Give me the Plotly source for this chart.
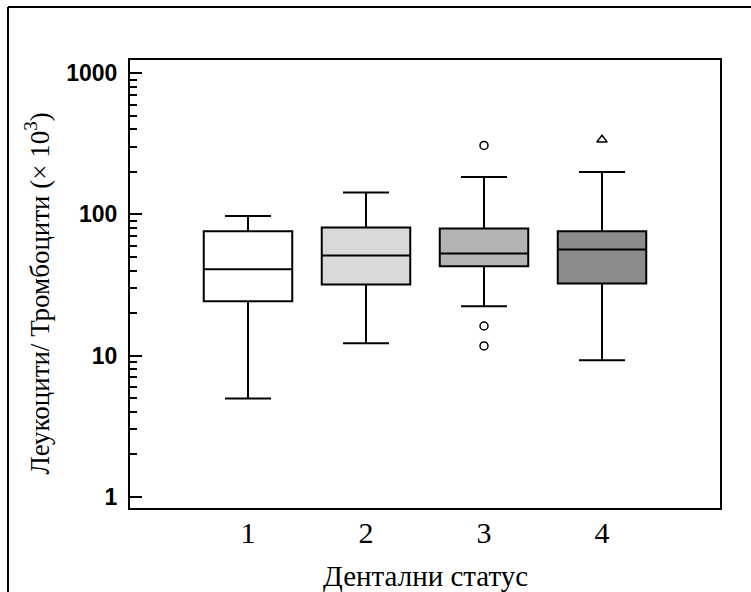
import plotly.graph_objects as go

groups = [1, 2, 3, 4]
tick_text = ["1", "2", "3", "4"]
q1 = [24.3, 31.9, 42.9, 32.4]
median = [40.9, 51.1, 52.8, 56.4]
q3 = [75.9, 80.7, 79.4, 75.9]
lower = [4.97, 12.2, 22.4, 9.27]
upper = [97.5, 142.7, 184.0, 199.5]
fills = ["#ffffff", "#d9d9d9", "#b3b3b3", "#8c8c8c"]

circ_x = [3, 3, 3]
circ_y = [308, 16.2, 11.7]
tri_x = [4]
tri_y = [338]

y_title = "Леукоцити/ Тромбоцити (× 10<sup>3</sup>)"
x_title = "Дентални статус"

fig = go.Figure()
for i in range(len(groups)):
    fig.add_trace(go.Box(
        x=[groups[i]], q1=[q1[i]], median=[median[i]], q3=[q3[i]],
        lowerfence=[lower[i]], upperfence=[upper[i]],
        fillcolor=fills[i], line=dict(color="black", width=2),
        width=0.75, whiskerwidth=0.52, boxpoints=False, showlegend=False,
        hoverinfo="skip"))

fig.add_trace(go.Scatter(x=circ_x, y=circ_y, mode="markers",
    marker=dict(symbol="circle-open", size=8, color="black", line=dict(width=1.5)),
    showlegend=False))
fig.add_trace(go.Scatter(x=tri_x, y=tri_y, mode="markers",
    marker=dict(symbol="triangle-up-open", size=9, color="black", line=dict(width=1.5)),
    showlegend=False))

minor_vals = [k * 10 ** d for d in range(0, 3) for k in range(2, 10)]

fig.update_layout(
    width=751, height=592,
    margin=dict(l=130, r=31, t=60, b=84),
    paper_bgcolor="white", plot_bgcolor="white",
    xaxis=dict(range=[0, 5], tickvals=groups, ticktext=tick_text, ticks="",
               automargin=False,
               showgrid=False, zeroline=False, showline=True, mirror=True,
               linecolor="black", linewidth=2, ticklabelstandoff=-3,
               tickfont=dict(family="Liberation Serif", size=30, color="black")),
    yaxis=dict(type="log", range=[-0.08, 3.094], tickvals=[1, 10, 100, 1000],
               ticktext=["1", "10", "100", "1000"], automargin=False,
               ticks="inside", ticklen=12, tickwidth=2, tickcolor="black",
               minor=dict(ticks="inside", ticklen=7, tickwidth=1.5, tickcolor="black",
                          tickvals=minor_vals, showgrid=False),
               showgrid=False, zeroline=False, showline=True, mirror=True,
               linecolor="black", linewidth=2, ticklabelstandoff=6,
               tickfont=dict(family="Liberation Sans", size=23, color="black", weight="bold")),
    annotations=[dict(text=y_title, xref="paper", yref="paper", x=-0.156, y=0.4788,
                      xanchor="center", yanchor="middle", textangle=-90, showarrow=False,
                      font=dict(family="Liberation Serif", size=27, color="black")),
                 dict(text=x_title, xref="paper", yref="paper", x=0.5, y=-0.152,
                      xanchor="center", yanchor="middle", showarrow=False,
                      font=dict(family="Liberation Serif", size=29, color="black"))],
    shapes=[dict(type="line", xref="paper", yref="paper", x0=-0.2068, x1=1.2,
                 y0=1.1183, y1=1.1183, line=dict(color="black", width=2)),
            dict(type="line", xref="paper", yref="paper", x0=-0.2068, x1=-0.2068,
                 y0=1.1183, y1=-0.3, line=dict(color="black", width=2))],
)

fig.write_html("out.html")
